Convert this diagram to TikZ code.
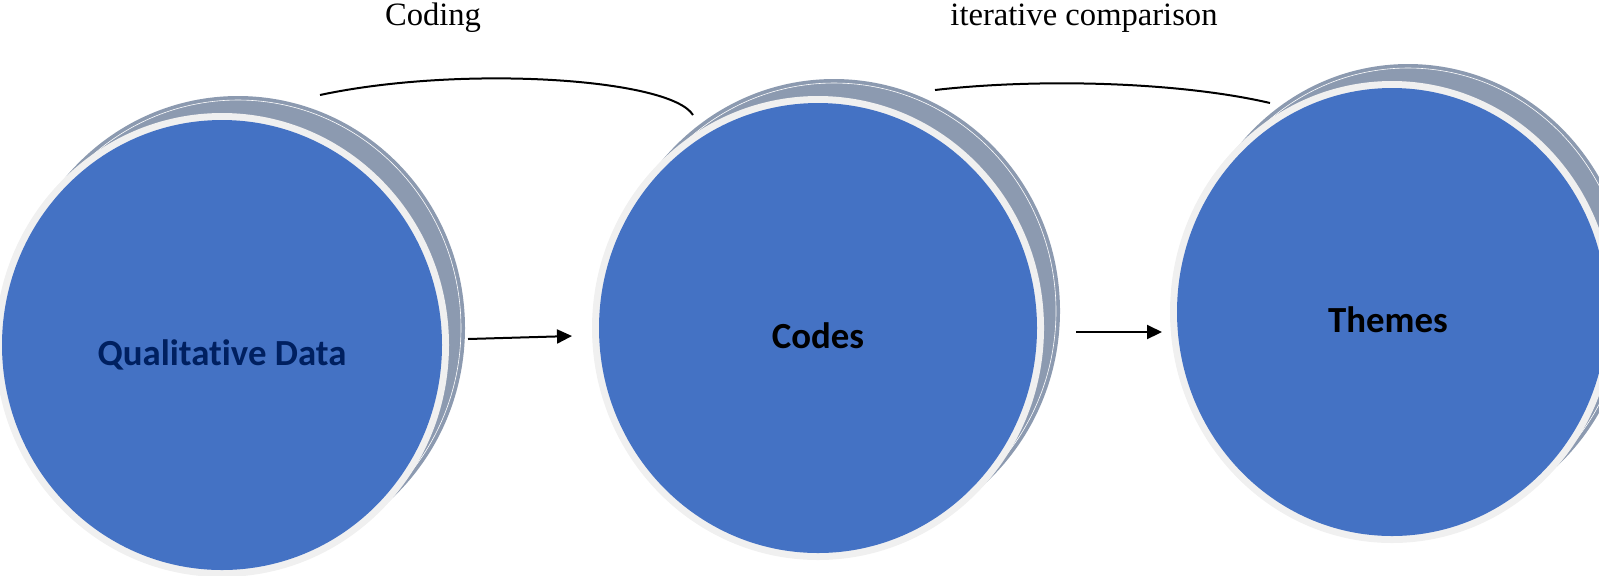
\documentclass[tikz,border=0pt]{standalone}
\usepackage{fontspec}
\newfontfamily\lblfont[Ligatures=NoCommon]{Carlito}
\newfontfamily\toplblfont{Liberation Serif}
\usetikzlibrary{arrows.meta}
\definecolor{cblue}{HTML}{4472C4}
\definecolor{cring}{HTML}{F0F0F0}
\definecolor{cshadow}{HTML}{8C9AB0}
\definecolor{cnavy}{HTML}{002060}
\tikzset{
  shadowdisk/.style={fill=cshadow},
  shadowline/.style={draw=white, line width=0.3pt},
  ringdisk/.style={fill=cring},
  bluedisk/.style={fill=cblue},
  bubbletext/.style={font=\lblfont\bfseries\fontsize{18.4pt}{20pt}\selectfont, anchor=base, inner sep=0pt},
  toplabel/.style={font=\toplblfont\fontsize{16.3pt}{18pt}\selectfont, anchor=base, inner sep=0pt},
  flowarrow/.style={-{Triangle[length=7.5pt,width=7pt]}, line width=1pt, black},
  bracecurve/.style={line width=1pt, black},
}
\newcommand\drawbubble[4]{%
  \fill[shadowdisk] (#1+16,#2-17) ellipse [x radius=#3, y radius=#4];
  \draw[shadowline] (#1+16,#2-17) ellipse [x radius=#3-2pt, y radius=#4-2pt];
  \fill[ringdisk] (#1,#2) ellipse [x radius=#3, y radius=#4];
  \fill[bluedisk] (#1,#2) ellipse [x radius=#3-3.5pt, y radius=#4-3.5pt];
}
\begin{document}
\begin{tikzpicture}[x=0.5pt,y=-0.5pt]
\useasboundingbox (0,0) rectangle (1599,575);
\drawbubble{222}{345}{113.5pt}{116pt}
\drawbubble{818}{328}{113pt}{116pt}
\drawbubble{1392}{312}{111pt}{115.5pt}

\node[bubbletext, text=cnavy] (qd) at (222,365) {Qualitative Data};
\node[bubbletext, text=black] (codes) at (818,348) {Codes};
\node[bubbletext, text=black] (themes) at (1388,332) {Themes};

\node[toplabel] (coding) at (433,25) {Coding};
\node[toplabel] (iter) at (1084,25) {iterative comparison};

\coordinate (a1s) at (468,339);
\coordinate (a1e) at (572,336);
\coordinate (a2s) at (1076,332);
\coordinate (a2e) at (1162,332);
\draw[flowarrow] (a1s) -- (a1e);
\draw[flowarrow] (a2s) -- (a2e);

\coordinate (c1s) at (320,95);
\coordinate (c1e) at (693,115);
\coordinate (c2s) at (935,90);
\coordinate (c2e) at (1270,103);
\draw[bracecurve] (c1s) .. controls (460,65) and (670,78) .. (c1e);
\draw[bracecurve] (c2s) .. controls (1040,78) and (1180,82) .. (c2e);
\end{tikzpicture}
\end{document}
